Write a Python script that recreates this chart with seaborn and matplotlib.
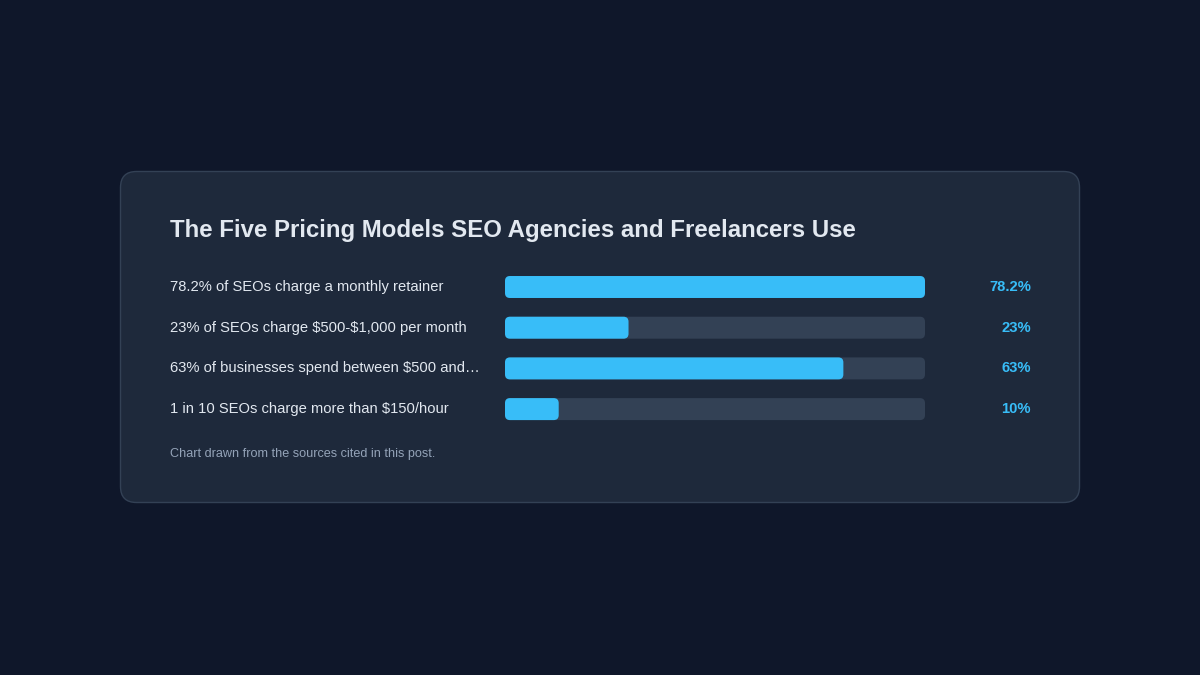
import matplotlib
matplotlib.use("Agg")
import matplotlib.pyplot as plt
from matplotlib.patches import FancyBboxPatch
import matplotlib.transforms as mtransforms
import seaborn as sns
import pandas as pd

labels = [
    "78.2% of SEOs charge a monthly retainer",
    "23% of SEOs charge $500-$1,000 per month",
    "63% of businesses spend between $500 and\u2026",
    "1 in 10 SEOs charge more than $150/hour",
]
values = [78.2, 23, 63, 10]
value_labels = ["78.2%", "23%", "63%", "10%"]
title = "The Five Pricing Models SEO Agencies and Freelancers Use"
footer = "Chart drawn from the sources cited in this post."

BG = "#0f172a"
CARD = "#1e293b"
TRACK = "#334155"
FILL = "#38bdf8"
TEXT = "#e2e8f0"
MUTED = "#94a3b8"

sns.set_theme(style="white")
plt.rcParams["font.family"] = ["Liberation Sans", "DejaVu Sans"]
plt.rcParams["text.parse_math"] = False

W, H = 1200, 675
fig = plt.figure(figsize=(12, 6.75), dpi=100, facecolor=BG)

# background layer in pixel coordinates for the card
bg = fig.add_axes([0, 0, 1, 1])
bg.set_xlim(0, W)
bg.set_ylim(H, 0)
bg.axis("off")
bg.add_patch(FancyBboxPatch((120.5, 171.5), 959, 331,
                            boxstyle="round,pad=0,rounding_size=16",
                            facecolor=CARD, edgecolor="#334155", linewidth=1))

bg.text(170, 230, title, color=TEXT, fontsize=17.3, fontweight="bold",
        va="center", ha="left")
bg.text(170, 454, footer, color=MUTED, fontsize=9.1, va="center", ha="left")

# bar axes
row_h = 40.7
top = 287 - row_h / 2
left_px, width_px = 505, 420
ax = fig.add_axes([left_px / W, 1 - (top + 4 * row_h) / H, width_px / W, 4 * row_h / H])
ax.set_facecolor("none")

df = pd.DataFrame({"label": labels, "value": values, "track": [max(values)] * len(values)})
sns.barplot(data=df, x="track", y="label", orient="h", color=TRACK, saturation=1,
            width=0.54, ax=ax)
sns.barplot(data=df, x="value", y="label", orient="h", color=FILL, saturation=1,
            width=0.54, ax=ax)

ax.set_xlim(0, max(values))
ax.set_ylim(len(values) - 0.5, -0.5)
ax.axis("off")

# swap plain rectangles for rounded ones
px_per_x = width_px / max(values)
px_per_y = row_h
r_px = 5
for p in list(ax.patches):
    x0, y0 = p.get_x(), p.get_y()
    w, h = p.get_width(), p.get_height()
    fc = p.get_facecolor()
    p.remove()
    rr = FancyBboxPatch((x0, y0), w, h,
                        boxstyle=f"round,pad=0,rounding_size={r_px / px_per_x}",
                        mutation_aspect=px_per_x / px_per_y,
                        facecolor=fc, edgecolor="none", linewidth=0)
    ax.add_patch(rr)

trans = mtransforms.blended_transform_factory(bg.transData, ax.transData)
for i, (lab, vl) in enumerate(zip(labels, value_labels)):
    ax.text(170, i, lab, transform=trans, color=TEXT, fontsize=10.6,
            va="center", ha="left", clip_on=False)
    ax.text(1031, i, vl, transform=trans, color=FILL, fontsize=10.6,
            fontweight="bold", va="center", ha="right", clip_on=False)

fig.savefig("out.png", dpi=100, facecolor=BG)
